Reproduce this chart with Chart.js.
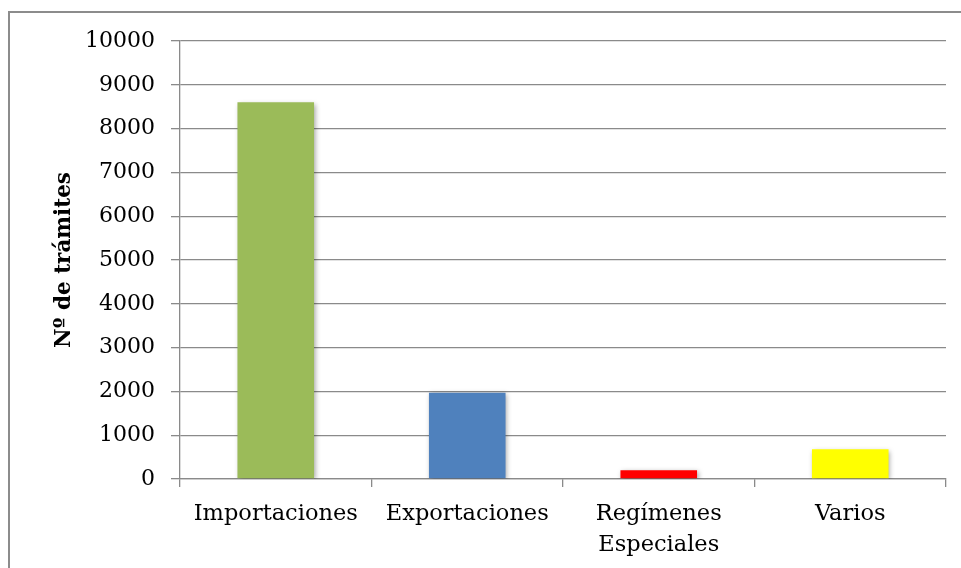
<!DOCTYPE html>
<html>
<head>
<meta charset="utf-8">
<script src="https://cdn.jsdelivr.net/npm/chart.js@4/dist/chart.umd.min.js"></script>
<style>
  html, body { margin: 0; padding: 0; background: #fff; }
  #wrap { position: relative; width: 961px; height: 568px; overflow: hidden; }
  #frame { position: absolute; left: 8px; top: 11px; width: 1000px; height: 600px;
           border: 2px solid #8c8c8c; box-sizing: border-box; }
  #c { position: absolute; left: 0; top: 0; }
</style>
</head>
<body>
<div id="wrap">
  <div id="frame"></div>
  <canvas id="c" width="961" height="568"></canvas>
</div>
<script>
// Trámites por tipo de operación
const categories = ['Importaciones', 'Exportaciones', ['Regímenes', 'Especiales'], 'Varios'];
const tramites = [8600, 1970, 200, 680];
const barColors = ['#9BBB59', '#4F81BD', '#FF0000', '#FFFF00'];
const yTicks = [0, 1000, 2000, 3000, 4000, 5000, 6000, 7000, 8000, 9000, 10000];
const yTitle = 'Nº de trámites';

const FONT = "'DejaVu Serif', serif";
const GRID = '#8a8a8a';

// soft drop shadow under the bars
const barShadow = {
  id: 'barShadow',
  beforeDatasetsDraw(chart) {
    const ctx = chart.ctx;
    ctx.save();
    ctx.shadowColor = 'rgba(0,0,0,0.35)';
    ctx.shadowBlur = 5;
    ctx.shadowOffsetX = 1.5;
    ctx.shadowOffsetY = 1.5;
  },
  afterDatasetsDraw(chart) {
    chart.ctx.restore();
  }
};

new Chart(document.getElementById('c'), {
  type: 'bar',
  data: {
    labels: categories,
    datasets: [{
      data: tramites,
      backgroundColor: barColors,
      borderWidth: 0,
      categoryPercentage: 1.0,
      barPercentage: 0.4
    }]
  },
  options: {
    responsive: false,
    animation: false,
    events: [],
    layout: { padding: { top: 41, right: 15, left: 0, bottom: 0 } },
    plugins: {
      legend: { display: false },
      tooltip: { enabled: false },
      title: { display: false }
    },
    scales: {
      x: {
        grid: {
          offset: true,
          drawOnChartArea: false,
          drawTicks: true,
          tickLength: 8,
          color: GRID,
          lineWidth: 1.3
        },
        border: { display: true, color: GRID, width: 1.3 },
        ticks: {
          color: '#000',
          padding: 12,
          maxRotation: 0,
          autoSkip: false,
          font: { family: FONT, size: 22.5, lineHeight: 1.36 }
        },
        afterFit(scale) { scale.height = 89; }
      },
      y: {
        min: 0,
        max: 10000,
        afterBuildTicks(scale) { scale.ticks = yTicks.map(v => ({ value: v })); },
        grid: {
          color: GRID,
          lineWidth: 1.3,
          drawTicks: true,
          tickLength: 9
        },
        border: { display: true, color: GRID, width: 1.3 },
        ticks: {
          color: '#000',
          padding: 16,
          callback: (v) => String(v),
          font: { family: FONT, size: 22 }
        },
        title: {
          display: true,
          text: yTitle,
          color: '#000',
          padding: { top: 52, bottom: 0 },
          font: { family: FONT, size: 21.5, weight: 'bold', lineHeight: 1.2 }
        },
        afterFit(scale) { scale.width = 180; }
      }
    }
  },
  plugins: [barShadow]
});
</script>
</body>
</html>
